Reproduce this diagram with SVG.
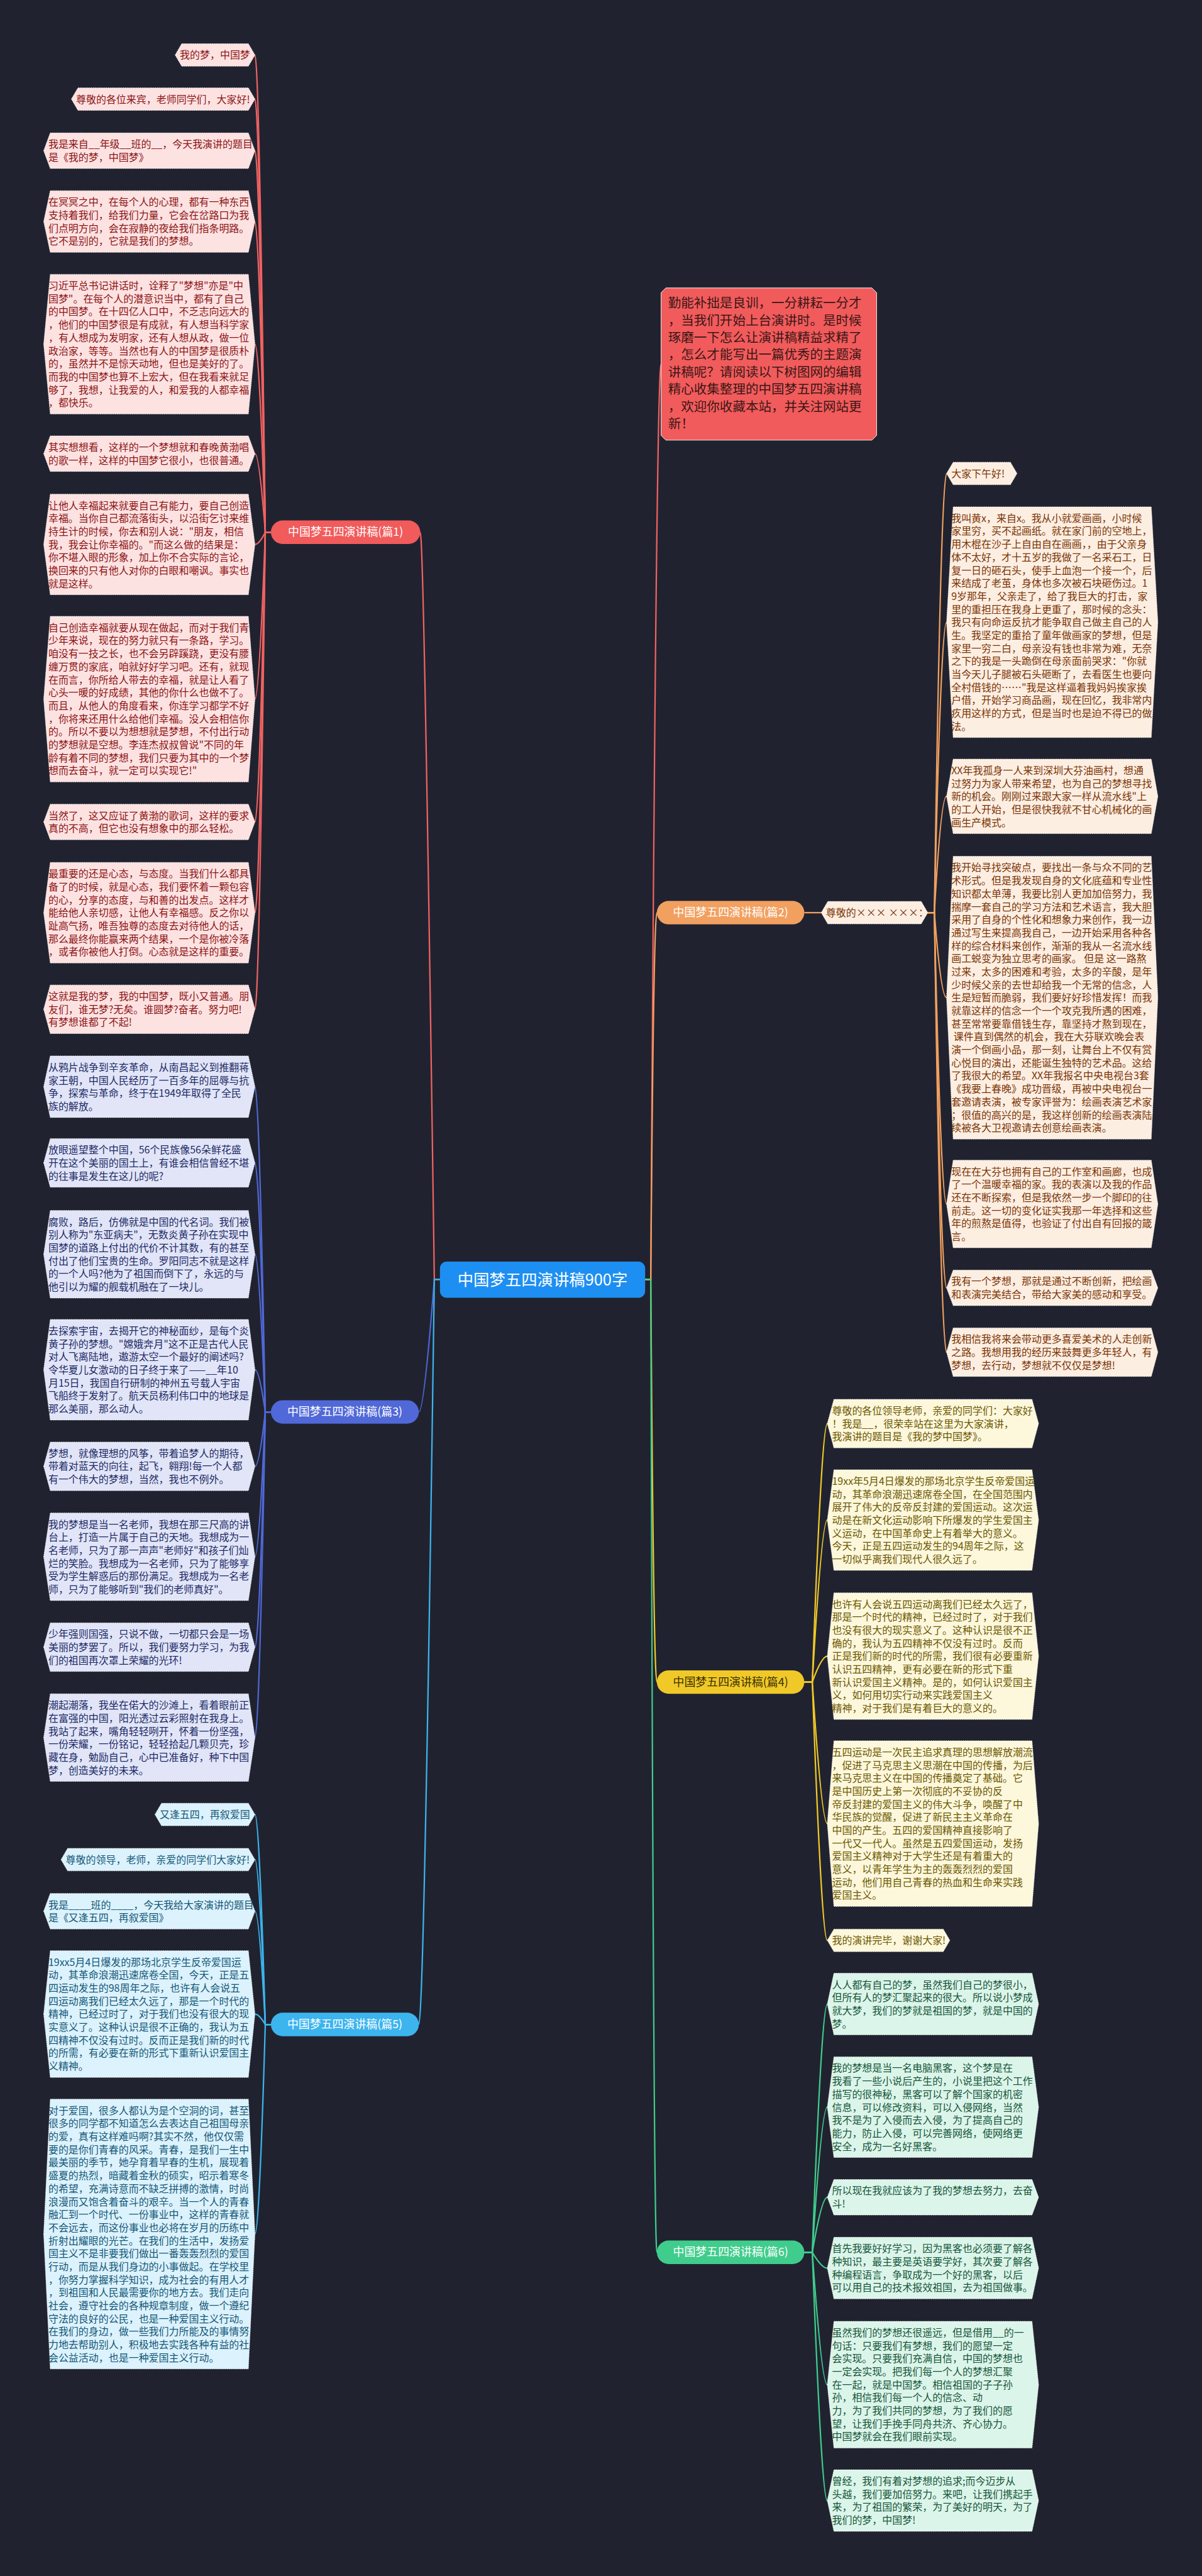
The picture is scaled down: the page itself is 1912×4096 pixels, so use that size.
<svg xmlns="http://www.w3.org/2000/svg" width="1912" height="4096" viewBox="0 0 1912 4096">
<style>
.bx polygon{stroke:#ffffff;stroke-width:1.2;stroke-dasharray:2 2}
.bx text{font-family:"Noto Sans CJK SC","Noto Sans",sans-serif;font-size:21.4px}
.r polygon{fill:#fde2e2}.r text{fill:#8c1414}
.b polygon{fill:#e1e5f7}.b text{fill:#1d2a66}
.c polygon{fill:#dcf2fc}.c text{fill:#145878}
.o polygon{fill:#fdeee2}.o text{fill:#7a3505}
.y polygon{fill:#fdf7dc}.y text{fill:#6b5800}
.g polygon{fill:#dcf5ea}.g text{fill:#16553a}
.ln path{fill:none;stroke-width:3}
.pl text{font-family:"Noto Sans CJK SC","Noto Sans",sans-serif;font-size:24px;text-anchor:middle}
</style>
<rect width="1912" height="4096" fill="#20232f"/>
<g transform="scale(0.746875)">
<g id="connectors" class="ln">
<path stroke="#f06262" d="M937,2724 L925,2724 Q903,1133 895,1133"/>
<path stroke="#5068d8" d="M937,2724 L925,2724 Q903,3006 892,3006"/>
<path stroke="#3cb4ee" d="M937,2724 L925,2724 Q903,4310 892,4310"/>
<path stroke="#f06262" d="M1374,2724 L1386,2724 Q1398,775 1408,775"/>
<path stroke="#f2a060" d="M1374,2724 L1386,2724 Q1392,1943 1399,1943"/>
<path stroke="#f0c828" d="M1374,2724 L1386,2724 Q1392,3581 1399,3581"/>
<path stroke="#40cc8c" d="M1374,2724 L1386,2724 Q1392,4795 1399,4795"/>
<g stroke="#f06262">
<path d="M577,1133 L565,1133 Q552,117 543,117"/>
<path d="M577,1133 L565,1133 Q552,211 543,211"/>
<path d="M577,1133 L565,1133 Q552,321 543,321"/>
<path d="M577,1133 L565,1133 Q552,472 543,472"/>
<path d="M577,1133 L565,1133 Q552,733 543,733"/>
<path d="M577,1133 L565,1133 Q552,966 543,966"/>
<path d="M577,1133 L565,1133 Q552,1159 543,1159"/>
<path d="M577,1133 L565,1133 Q552,1488 543,1488"/>
<path d="M577,1133 L565,1133 Q552,1750 543,1750"/>
<path d="M577,1133 L565,1133 Q552,1943 543,1943"/>
<path d="M577,1133 L565,1133 Q552,2149 543,2149"/>
</g>
<g stroke="#5068d8">
<path d="M577,3006 L565,3006 Q552,2314 543,2314"/>
<path d="M577,3006 L565,3006 Q552,2476 543,2476"/>
<path d="M577,3006 L565,3006 Q552,2670 543,2670"/>
<path d="M577,3006 L565,3006 Q552,2916 543,2916"/>
<path d="M577,3006 L565,3006 Q552,3122 543,3122"/>
<path d="M577,3006 L565,3006 Q552,3314 543,3314"/>
<path d="M577,3006 L565,3006 Q552,3507 543,3507"/>
<path d="M577,3006 L565,3006 Q552,3699 543,3699"/>
</g>
<g stroke="#3cb4ee">
<path d="M577,4310 L565,4310 Q552,3863 543,3863"/>
<path d="M577,4310 L565,4310 Q552,3959 543,3959"/>
<path d="M577,4310 L565,4310 Q552,4069 543,4069"/>
<path d="M577,4310 L565,4310 Q552,4288 543,4288"/>
<path d="M577,4310 L565,4310 Q552,4756 543,4756"/>
</g>
<g stroke="#f2a060">
<path d="M1713,1943 L1749,1943"/>
<path d="M1976,1943 L1990,1943 Q2004,1008 2016,1008"/>
<path d="M1976,1943 L1990,1943 Q2004,1325 2016,1325"/>
<path d="M1976,1943 L1990,1943 Q2004,1695 2016,1695"/>
<path d="M1976,1943 L1990,1943 Q2004,2124 2016,2124"/>
<path d="M1976,1943 L1990,1943 Q2004,2563 2016,2563"/>
<path d="M1976,1943 L1990,1943 Q2004,2742 2016,2742"/>
<path d="M1976,1943 L1990,1943 Q2004,2879 2016,2879"/>
</g>
<g stroke="#f0c828">
<path d="M1713,3581 L1730,3581 Q1750,3031 1762,3031"/>
<path d="M1713,3581 L1730,3581 Q1750,3236 1762,3236"/>
<path d="M1713,3581 L1730,3581 Q1750,3526 1762,3526"/>
<path d="M1713,3581 L1730,3581 Q1750,3882 1762,3882"/>
<path d="M1713,3581 L1730,3581 Q1750,4131 1762,4131"/>
</g>
<g stroke="#40cc8c">
<path d="M1713,4795 L1730,4795 Q1750,4267 1762,4267"/>
<path d="M1713,4795 L1730,4795 Q1750,4486 1762,4486"/>
<path d="M1713,4795 L1730,4795 Q1750,4678 1762,4678"/>
<path d="M1713,4795 L1730,4795 Q1750,4829 1762,4829"/>
<path d="M1713,4795 L1730,4795 Q1750,5077 1762,5077"/>
<path d="M1713,4795 L1730,4795 Q1750,5324 1762,5324"/>
</g>
</g>

<g id="center"><rect x="937" y="2686" width="437" height="77" rx="14" fill="#1e8ff2"/><text x="1155.5" y="2737" font-family="Noto Sans CJK SC,sans-serif" font-size="34" fill="#ffffff" text-anchor="middle">中国梦五四演讲稿900字</text></g>

<g id="intro"><polygon points="1418,613 1857,613 1867,623 1867,927 1857,937 1418,937 1408,927 1408,623" fill="#f15b5b" stroke="#ffffff" stroke-width="1.2"/>
<text font-family="Noto Sans CJK SC,sans-serif" font-size="27.5" fill="#3a1616"><tspan x="1423" y="655">勤能补拙是良训，一分耕耘一分才</tspan><tspan x="1423" dy="36.7">，当我们开始上台演讲时。是时候</tspan><tspan x="1423" dy="36.7">琢磨一下怎么让演讲稿精益求精了</tspan><tspan x="1423" dy="36.7">，怎么才能写出一篇优秀的主题演</tspan><tspan x="1423" dy="36.7">讲稿呢？请阅读以下树图网的编辑</tspan><tspan x="1423" dy="36.7">精心收集整理的中国梦五四演讲稿</tspan><tspan x="1423" dy="36.7">，欢迎你收藏本站，并关注网站更</tspan><tspan x="1423" dy="36.7">新！</tspan></text></g>

<g id="p1" class="pl"><rect x="577" y="1108" width="318" height="50" rx="25" fill="#f15b5b"/><text x="736" y="1141" fill="#ffffff">中国梦五四演讲稿(篇1)</text></g>
<g id="p3" class="pl"><rect x="577" y="2981" width="315" height="50" rx="25" fill="#5068d8"/><text x="734.5" y="3014" fill="#ffffff">中国梦五四演讲稿(篇3)</text></g>
<g id="p5" class="pl"><rect x="577" y="4285" width="315" height="50" rx="25" fill="#3cb4ee"/><text x="734.5" y="4318" fill="#ffffff">中国梦五四演讲稿(篇5)</text></g>
<g id="p2" class="pl"><rect x="1399" y="1918" width="314" height="50" rx="25" fill="#f2a060"/><text x="1556" y="1951" fill="#ffffff">中国梦五四演讲稿(篇2)</text></g>
<g id="p4" class="pl"><rect x="1399" y="3556" width="314" height="50" rx="25" fill="#f0c828"/><text x="1556" y="3589" fill="#3a3000">中国梦五四演讲稿(篇4)</text></g>
<g id="p6" class="pl"><rect x="1399" y="4770" width="314" height="50" rx="25" fill="#40cc8c"/><text x="1556" y="4803" fill="#ffffff">中国梦五四演讲稿(篇6)</text></g>

<!-- RED -->
<g id="r1" class="bx r"><polygon points="373,117 387,93 529,93 543,117 529,141 387,141"/><text><tspan x="383" y="125">我的梦，中国梦</tspan></text></g>
<g id="r2" class="bx r"><polygon points="152,211 166,187 529,187 543,211 529,235 166,235"/><text><tspan x="162" y="219">尊敬的各位来宾，老师同学们，大家好!</tspan></text></g>
<g id="r3" class="bx r"><polygon points="93,320.9 107,283 529,283 543,320.9 529,358.7 107,358.7"/><text><tspan x="103" y="315">我是来自__年级__班的__，今天我演讲的题目</tspan><tspan x="103" dy="27.7">是《我的梦，中国梦》</tspan></text></g>
<g id="r4" class="bx r"><polygon points="93,471.6 107,406 529,406 543,471.6 529,537.1 107,537.1"/><text><tspan x="103" y="438">在冥冥之中，在每个人的心理，都有一种东西</tspan><tspan x="103" dy="27.7">支持着我们，给我们力量，它会在岔路口为我</tspan><tspan x="103" dy="27.7">们点明方向，会在寂静的夜给我们指条明路。</tspan><tspan x="103" dy="27.7">它不是别的，它就是我们的梦想。</tspan></text></g>
<g id="r5" class="bx r"><polygon points="93,732.7 107,584 529,584 543,732.7 529,881.3 107,881.3"/><text><tspan x="103" y="616">习近平总书记讲话时，诠释了"梦想"亦是"中</tspan><tspan x="103" dy="27.7">国梦"。在每个人的潜意识当中，都有了自己</tspan><tspan x="103" dy="27.7">的中国梦。在十四亿人口中，不乏志向远大的</tspan><tspan x="103" dy="27.7">，他们的中国梦很是有成就，有人想当科学家</tspan><tspan x="103" dy="27.7">，有人想成为发明家，还有人想从政，做一位</tspan><tspan x="103" dy="27.7">政治家，等等。当然也有人的中国梦是很质朴</tspan><tspan x="103" dy="27.7">的，虽然并不是惊天动地，但也是美好的了。</tspan><tspan x="103" dy="27.7">而我的中国梦也算不上宏大，但在我看来就足</tspan><tspan x="103" dy="27.7">够了，我想，让我爱的人，和爱我的人都幸福</tspan><tspan x="103" dy="27.7">，都快乐。</tspan></text></g>
<g id="r6" class="bx r"><polygon points="93,965.9 107,928 529,928 543,965.9 529,1003.7 107,1003.7"/><text><tspan x="103" y="960">其实想想看，这样的一个梦想就和春晚黄渤唱</tspan><tspan x="103" dy="27.7">的歌一样，这样的中国梦它很小，也很普通。</tspan></text></g>
<g id="r7" class="bx r"><polygon points="93,1159.1 107,1052 529,1052 543,1159.1 529,1266.2 107,1266.2"/><text><tspan x="103" y="1084">让他人幸福起来就要自己有能力，要自己创造</tspan><tspan x="103" dy="27.7">幸福。当你自己都流落街头，以沿街乞讨来维</tspan><tspan x="103" dy="27.7">持生计的时候，你去和别人说："朋友，相信</tspan><tspan x="103" dy="27.7">我，我会让你幸福的。"而这么做的结果是：</tspan><tspan x="103" dy="27.7">你不堪入眼的形象，加上你不合实际的言论，</tspan><tspan x="103" dy="27.7">换回来的只有他人对你的白眼和嘲讽。事实也</tspan><tspan x="103" dy="27.7">就是这样。</tspan></text></g>
<g id="r8" class="bx r"><polygon points="93,1488.4 107,1312 529,1312 543,1488.4 529,1664.7 107,1664.7"/><text><tspan x="103" y="1344">自己创造幸福就要从现在做起，而对于我们青</tspan><tspan x="103" dy="27.7">少年来说，现在的努力就只有一条路，学习。</tspan><tspan x="103" dy="27.7">咱没有一技之长，也不会另辟蹊跷，更没有腰</tspan><tspan x="103" dy="27.7">缠万贯的家底，咱就好好学习吧。还有，就现</tspan><tspan x="103" dy="27.7">在而言，你所给人带去的幸福，就是让人看了</tspan><tspan x="103" dy="27.7">心头一暖的好成绩，其他的你什么也做不了。</tspan><tspan x="103" dy="27.7">而且，从他人的角度看来，你连学习都学不好</tspan><tspan x="103" dy="27.7">，你将来还用什么给他们幸福。没人会相信你</tspan><tspan x="103" dy="27.7">的。所以不要以为想想就是梦想，不付出行动</tspan><tspan x="103" dy="27.7">的梦想就是空想。李连杰叔叔曾说"不同的年</tspan><tspan x="103" dy="27.7">龄有着不同的梦想，我们只要为其中的一个梦</tspan><tspan x="103" dy="27.7">想而去奋斗，就一定可以实现它!"</tspan></text></g>
<g id="r9" class="bx r"><polygon points="93,1749.9 107,1712 529,1712 543,1749.9 529,1787.7 107,1787.7"/><text><tspan x="103" y="1744">当然了，这又应证了黄渤的歌词，这样的要求</tspan><tspan x="103" dy="27.7">真的不高，但它也没有想象中的那么轻松。</tspan></text></g>
<g id="r10" class="bx r"><polygon points="93,1943.1 107,1836 529,1836 543,1943.1 529,2050.2 107,2050.2"/><text><tspan x="103" y="1868">最重要的还是心态，与态度。当我们什么都具</tspan><tspan x="103" dy="27.7">备了的时候，就是心态，我们要怀着一颗包容</tspan><tspan x="103" dy="27.7">的心，分享的态度，与和善的出发点。这样才</tspan><tspan x="103" dy="27.7">能给他人亲切感，让他人有幸福感。反之你以</tspan><tspan x="103" dy="27.7">趾高气扬，唯吾独尊的态度去对待他人的话，</tspan><tspan x="103" dy="27.7">那么最终你能赢来两个结果，一个是你被冷落</tspan><tspan x="103" dy="27.7">，或者你被他人打倒。心态就是这样的重要。</tspan></text></g>
<g id="r11" class="bx r"><polygon points="93,2148.7 107,2097 529,2097 543,2148.7 529,2200.4 107,2200.4"/><text><tspan x="103" y="2129">这就是我的梦，我的中国梦，既小又普通。朋</tspan><tspan x="103" dy="27.7">友们，谁无梦?无矣。谁圆梦?奋者。努力吧!</tspan><tspan x="103" dy="27.7">有梦想谁都了不起!</tspan></text></g>

<!-- BLUE -->
<g id="b1" class="bx b"><polygon points="93,2313.6 107,2248 529,2248 543,2313.6 529,2379.1 107,2379.1"/><text><tspan x="103" y="2280">从鸦片战争到辛亥革命，从南昌起义到推翻蒋</tspan><tspan x="103" dy="27.7">家王朝，中国人民经历了一百多年的屈辱与抗</tspan><tspan x="103" dy="27.7">争，探索与革命，终于在1949年取得了全民</tspan><tspan x="103" dy="27.7">族的解放。</tspan></text></g>
<g id="b2" class="bx b"><polygon points="93,2475.7 107,2424 529,2424 543,2475.7 529,2527.4 107,2527.4"/><text><tspan x="103" y="2456">放眼遥望整个中国，56个民族像56朵鲜花盛</tspan><tspan x="103" dy="27.7">开在这个美丽的国土上，有谁会相信曾经不堪</tspan><tspan x="103" dy="27.7">的往事是发生在这儿的呢?</tspan></text></g>
<g id="b3" class="bx b"><polygon points="93,2670.3 107,2577 529,2577 543,2670.3 529,2763.5 107,2763.5"/><text><tspan x="103" y="2609">腐败，路后，仿佛就是中国的代名词。我们被</tspan><tspan x="103" dy="27.7">别人称为"东亚病夫"，无数炎黄子孙在实现中</tspan><tspan x="103" dy="27.7">国梦的道路上付出的代价不计其数，有的甚至</tspan><tspan x="103" dy="27.7">付出了他们宝贵的生命。罗阳同志不就是这样</tspan><tspan x="103" dy="27.7">的一个人吗?他为了祖国而倒下了，永远的与</tspan><tspan x="103" dy="27.7">他引以为耀的舰载机融在了一块儿。</tspan></text></g>
<g id="b4" class="bx b"><polygon points="93,2916.1 107,2809 529,2809 543,2916.1 529,3023.2 107,3023.2"/><text><tspan x="103" y="2841">去探索宇宙，去揭开它的神秘面纱，是每个炎</tspan><tspan x="103" dy="27.7">黄子孙的梦想。"嫦娥奔月"这不正是古代人民</tspan><tspan x="103" dy="27.7">对人飞离陆地，遨游太空一个最好的阐述吗?</tspan><tspan x="103" dy="27.7">令华夏儿女激动的日子终于来了——__年10</tspan><tspan x="103" dy="27.7">月15日，我国自行研制的神州五号载人宇宙</tspan><tspan x="103" dy="27.7">飞船终于发射了。航天员杨利伟口中的地球是</tspan><tspan x="103" dy="27.7">那么美丽，那么动人。</tspan></text></g>
<g id="b5" class="bx b"><polygon points="93,3121.7 107,3070 529,3070 543,3121.7 529,3173.4 107,3173.4"/><text><tspan x="103" y="3102">梦想，就像理想的风筝，带着追梦人的期待，</tspan><tspan x="103" dy="27.7">带着对蓝天的向往，起飞，翱翔!每一个人都</tspan><tspan x="103" dy="27.7">有一个伟大的梦想，当然，我也不例外。</tspan></text></g>
<g id="b6" class="bx b"><polygon points="93,3314.3 107,3221 529,3221 543,3314.3 529,3407.5 107,3407.5"/><text><tspan x="103" y="3253">我的梦想是当一名老师，我想在那三尺高的讲</tspan><tspan x="103" dy="27.7">台上，打造一片属于自己的天地。我想成为一</tspan><tspan x="103" dy="27.7">名老师，只为了那一声声"老师好"和孩子们灿</tspan><tspan x="103" dy="27.7">烂的笑脸。我想成为一名老师，只为了能够享</tspan><tspan x="103" dy="27.7">受为学生解惑后的那份满足。我想成为一名老</tspan><tspan x="103" dy="27.7">师，只为了能够听到"我们的老师真好"。</tspan></text></g>
<g id="b7" class="bx b"><polygon points="93,3506.7 107,3455 529,3455 543,3506.7 529,3558.4 107,3558.4"/><text><tspan x="103" y="3487">少年强则国强，只说不做，一切都只会是一场</tspan><tspan x="103" dy="27.7">美丽的梦罢了。所以，我们要努力学习，为我</tspan><tspan x="103" dy="27.7">们的祖国再次罩上荣耀的光环!</tspan></text></g>
<g id="b8" class="bx b"><polygon points="93,3699.3 107,3606 529,3606 543,3699.3 529,3792.5 107,3792.5"/><text><tspan x="103" y="3638">潮起潮落，我坐在偌大的沙滩上，看着眼前正</tspan><tspan x="103" dy="27.7">在富强的中国，阳光透过云彩照射在我身上。</tspan><tspan x="103" dy="27.7">我站了起来，嘴角轻轻咧开，怀着一份坚强，</tspan><tspan x="103" dy="27.7">一份荣耀，一份铭记，轻轻拾起几颗贝壳，珍</tspan><tspan x="103" dy="27.7">藏在身，勉励自己，心中已准备好，种下中国</tspan><tspan x="103" dy="27.7">梦，创造美好的未来。</tspan></text></g>

<!-- LIGHT BLUE -->
<g id="c1" class="bx c"><polygon points="330,3863 344,3839 529,3839 543,3863 529,3887 344,3887"/><text><tspan x="340" y="3871">又逢五四，再叙爱国</tspan></text></g>
<g id="c2" class="bx c"><polygon points="130,3959 144,3935 529,3935 543,3959 529,3983 144,3983"/><text><tspan x="140" y="3967">尊敬的领导，老师，亲爱的同学们大家好!</tspan></text></g>
<g id="c3" class="bx c"><polygon points="93,4068.9 107,4031 529,4031 543,4068.9 529,4106.7 107,4106.7"/><text><tspan x="103" y="4063">我是____班的____，今天我给大家演讲的题目</tspan><tspan x="103" dy="27.7">是《又逢五四，再叙爱国》</tspan></text></g>
<g id="c4" class="bx c"><polygon points="93,4287.8 107,4153 529,4153 543,4287.8 529,4422.6 107,4422.6"/><text><tspan x="103" y="4185">19xx5月4日爆发的那场北京学生反帝爱国运</tspan><tspan x="103" dy="27.7">动，其革命浪潮迅速席卷全国，今天，正是五</tspan><tspan x="103" dy="27.7">四运动发生的98周年之际，也许有人会说五</tspan><tspan x="103" dy="27.7">四运动离我们已经太久远了，那是一个时代的</tspan><tspan x="103" dy="27.7">精神，已经过时了，对于我们也没有很大的现</tspan><tspan x="103" dy="27.7">实意义了。这种认识是很不正确的，我认为五</tspan><tspan x="103" dy="27.7">四精神不仅没有过时。反而正是我们新的时代</tspan><tspan x="103" dy="27.7">的所需，有必要在新的形式下重新认识爱国主</tspan><tspan x="103" dy="27.7">义精神。</tspan></text></g>
<g id="c5" class="bx c"><polygon points="93,4756.2 107,4469 529,4469 543,4756.2 529,5043.3 107,5043.3"/><text><tspan x="103" y="4501">对于爱国，很多人都认为是个空洞的词，甚至</tspan><tspan x="103" dy="27.7">很多的同学都不知道怎么去表达自己祖国母亲</tspan><tspan x="103" dy="27.7">的爱，真有这样难吗啊?其实不然，他仅仅需</tspan><tspan x="103" dy="27.7">要的是你们青春的风采。青春，是我们一生中</tspan><tspan x="103" dy="27.7">最美丽的季节，她孕育着早春的生机，展现着</tspan><tspan x="103" dy="27.7">盛夏的热烈，暗藏着金秋的硕实，昭示着寒冬</tspan><tspan x="103" dy="27.7">的希望，充满诗意而不缺乏拼搏的激情，时尚</tspan><tspan x="103" dy="27.7">浪漫而又饱含着奋斗的艰辛。当一个人的青春</tspan><tspan x="103" dy="27.7">融汇到一个时代、一份事业中，这样的青春就</tspan><tspan x="103" dy="27.7">不会远去，而这份事业也必将在岁月的历练中</tspan><tspan x="103" dy="27.7">折射出耀眼的光芒。在我们的生活中，发扬爱</tspan><tspan x="103" dy="27.7">国主义不是非要我们做出一番轰轰烈烈的爱国</tspan><tspan x="103" dy="27.7">行动，而是从我们身边的小事做起。在学校里</tspan><tspan x="103" dy="27.7">，你努力掌握科学知识，成为社会的有用人才</tspan><tspan x="103" dy="27.7">，到祖国和人民最需要你的地方去。我们走向</tspan><tspan x="103" dy="27.7">社会，遵守社会的各种规章制度，做一个遵纪</tspan><tspan x="103" dy="27.7">守法的良好的公民，也是一种爱国主义行动。</tspan><tspan x="103" dy="27.7">在我们的身边，做一些我们力所能及的事情努</tspan><tspan x="103" dy="27.7">力地去帮助别人，积极地去实践各种有益的社</tspan><tspan x="103" dy="27.7">会公益活动，也是一种爱国主义行动。</tspan></text></g>

<!-- ORANGE -->
<g id="o0" class="bx o"><polygon points="1749,1943 1763,1919 1962,1919 1976,1943 1962,1967 1763,1967"/><text><tspan x="1759" y="1951">尊敬的××× ×××：</tspan></text></g>
<g id="o1" class="bx o"><polygon points="2016,1008 2030,984 2152,984 2166,1008 2152,1032 2030,1032"/><text><tspan x="2026" y="1016">大家下午好!</tspan></text></g>
<g id="o2" class="bx o"><polygon points="2016,1324.6 2030,1079 2452,1079 2466,1324.6 2452,1570.2 2030,1570.2"/><text><tspan x="2026" y="1111">我叫黄x，来自x。我从小就爱画画，小时候</tspan><tspan x="2026" dy="27.7">家里穷，买不起画纸。就在家门前的空地上，</tspan><tspan x="2026" dy="27.7">用木棍在沙子上自由自在画画，，由于父亲身</tspan><tspan x="2026" dy="27.7">体不太好，才十五岁的我做了一名采石工，日</tspan><tspan x="2026" dy="27.7">复一日的砸石头，使手上血泡一个接一个，后</tspan><tspan x="2026" dy="27.7">来结成了老茧，身体也多次被石块砸伤过。1</tspan><tspan x="2026" dy="27.7">9岁那年，父亲走了，给了我巨大的打击，家</tspan><tspan x="2026" dy="27.7">里的重担压在我身上更重了，那时候的念头：</tspan><tspan x="2026" dy="27.7">我只有向命运反抗才能争取自己做主自己的人</tspan><tspan x="2026" dy="27.7">生。我坚定的重拾了童年做画家的梦想，但是</tspan><tspan x="2026" dy="27.7">家里一穷二白，母亲没有钱也非常为难，无奈</tspan><tspan x="2026" dy="27.7">之下的我是一头跪倒在母亲面前哭求："你就</tspan><tspan x="2026" dy="27.7">当今天儿子腿被石头砸断了，去看医生也要向</tspan><tspan x="2026" dy="27.7">全村借钱的……"我是这样逼着我妈妈挨家挨</tspan><tspan x="2026" dy="27.7">户借，开始学习商品画，现在回忆，我非常内</tspan><tspan x="2026" dy="27.7">疚用这样的方式，但是当时也是迫不得已的做</tspan><tspan x="2026" dy="27.7">法。</tspan></text></g>
<g id="o3" class="bx o"><polygon points="2016,1695.4 2030,1616 2452,1616 2466,1695.4 2452,1774.8 2030,1774.8"/><text><tspan x="2026" y="1648">XX年我孤身一人来到深圳大芬油画村，想通</tspan><tspan x="2026" dy="27.7">过努力为家人带来希望，也为自己的梦想寻找</tspan><tspan x="2026" dy="27.7">新的机会。刚刚过来跟大家一样从流水线"上</tspan><tspan x="2026" dy="27.7">的工人开始，但是很快我就不甘心机械化的画</tspan><tspan x="2026" dy="27.7">画生产模式。</tspan></text></g>
<g id="o4" class="bx o"><polygon points="2016,2124 2030,1823 2452,1823 2466,2124 2452,2425 2030,2425"/><text><tspan x="2026" y="1855">我开始寻找突破点，要找出一条与众不同的艺</tspan><tspan x="2026" dy="27.7">术形式。但是我发现自身的文化底蕴和专业性</tspan><tspan x="2026" dy="27.7">知识都太单薄，我要比别人更加加倍努力，我</tspan><tspan x="2026" dy="27.7">揣摩一套自己的学习方法和艺术语言，我大胆</tspan><tspan x="2026" dy="27.7">采用了自身的个性化和想象力来创作，我一边</tspan><tspan x="2026" dy="27.7">通过写生来提高我自己，一边开始采用各种各</tspan><tspan x="2026" dy="27.7">样的综合材料来创作，渐渐的我从一名流水线</tspan><tspan x="2026" dy="27.7">画工蜕变为独立思考的画家。 但是 这一路熬</tspan><tspan x="2026" dy="27.7">过来，太多的困难和考验，太多的辛酸，是年</tspan><tspan x="2026" dy="27.7">少时候父亲的去世却给我一个无常的信念，人</tspan><tspan x="2026" dy="27.7">生是短暂而脆弱，我们要好好珍惜发挥！而我</tspan><tspan x="2026" dy="27.7">就靠这样的信念一个一个攻克我所遇的困难，</tspan><tspan x="2026" dy="27.7">甚至常常要靠借钱生存，靠坚持才熬到现在，</tspan><tspan x="2026" dy="27.7"> 课件直到偶然的机会，我在大芬联欢晚会表</tspan><tspan x="2026" dy="27.7">演一个倒画小品，那一刻，让舞台上不仅有赏</tspan><tspan x="2026" dy="27.7">心悦目的演出，还能诞生独特的艺术品。这给</tspan><tspan x="2026" dy="27.7">了我很大的希望。XX年我报名中央电视台3套</tspan><tspan x="2026" dy="27.7">《我要上春晚》成功晋级，再被中央电视台一</tspan><tspan x="2026" dy="27.7">套邀请表演，被专家评誉为：绘画表演艺术家</tspan><tspan x="2026" dy="27.7">；很值的高兴的是，我这样创新的绘画表演陆</tspan><tspan x="2026" dy="27.7">续被各大卫视邀请去创意绘画表演。</tspan></text></g>
<g id="o5" class="bx o"><polygon points="2016,2563.3 2030,2470 2452,2470 2466,2563.3 2452,2656.5 2030,2656.5"/><text><tspan x="2026" y="2502">现在在大芬也拥有自己的工作室和画廊，也成</tspan><tspan x="2026" dy="27.7">了一个温暖幸福的家。我的表演以及我的作品</tspan><tspan x="2026" dy="27.7">还在不断探索，但是我依然一步一个脚印的往</tspan><tspan x="2026" dy="27.7">前走。这一切的变化证实我那一年选择和这些</tspan><tspan x="2026" dy="27.7">年的煎熬是值得，也验证了付出自有回报的箴</tspan><tspan x="2026" dy="27.7">言。</tspan></text></g>
<g id="o6" class="bx o"><polygon points="2016,2741.9 2030,2704 2452,2704 2466,2741.9 2452,2779.7 2030,2779.7"/><text><tspan x="2026" y="2736">我有一个梦想，那就是通过不断创新，把绘画</tspan><tspan x="2026" dy="27.7">和表演完美结合，带给大家美的感动和享受。</tspan></text></g>
<g id="o7" class="bx o"><polygon points="2016,2878.7 2030,2827 2452,2827 2466,2878.7 2452,2930.4 2030,2930.4"/><text><tspan x="2026" y="2859">我相信我将来会带动更多喜爱美术的人走创新</tspan><tspan x="2026" dy="27.7">之路。我想用我的经历来鼓舞更多年轻人，有</tspan><tspan x="2026" dy="27.7">梦想，去行动，梦想就不仅仅是梦想!</tspan></text></g>

<!-- YELLOW -->
<g id="y1" class="bx y"><polygon points="1762,3030.7 1776,2979 2198,2979 2212,3030.7 2198,3082.4 1776,3082.4"/><text><tspan x="1772" y="3011">尊敬的各位领导老师，亲爱的同学们：大家好</tspan><tspan x="1772" dy="27.7">！我是__，很荣幸站在这里为大家演讲，</tspan><tspan x="1772" dy="27.7">我演讲的题目是《我的梦中国梦》。</tspan></text></g>
<g id="y2" class="bx y"><polygon points="1762,3236.1 1776,3129 2198,3129 2212,3236.1 2198,3343.2 1776,3343.2"/><text><tspan x="1772" y="3161">19xx年5月4日爆发的那场北京学生反帝爱国运</tspan><tspan x="1772" dy="27.7">动，其革命浪潮迅速席卷全国，在全国范围内</tspan><tspan x="1772" dy="27.7">展开了伟大的反帝反封建的爱国运动。这次运</tspan><tspan x="1772" dy="27.7">动是在新文化运动影响下所爆发的学生爱国主</tspan><tspan x="1772" dy="27.7">义运动，在中国革命史上有着举大的意义。</tspan><tspan x="1772" dy="27.7">今天，正是五四运动发生的94周年之际，这</tspan><tspan x="1772" dy="27.7">一切似乎离我们现代人很久远了。</tspan></text></g>
<g id="y3" class="bx y"><polygon points="1762,3525.8 1776,3391 2198,3391 2212,3525.8 2198,3660.6 1776,3660.6"/><text><tspan x="1772" y="3423">也许有人会说五四运动离我们已经太久远了，</tspan><tspan x="1772" dy="27.7">那是一个时代的精神，已经过时了，对于我们</tspan><tspan x="1772" dy="27.7">也没有很大的现实意义了。这种认识是很不正</tspan><tspan x="1772" dy="27.7">确的，我认为五四精神不仅没有过时。反而</tspan><tspan x="1772" dy="27.7">正是我们新的时代的所需，我们很有必要重新</tspan><tspan x="1772" dy="27.7">认识五四精神，更有必要在新的形式下重</tspan><tspan x="1772" dy="27.7">新认识爱国主义精神。是的，如何认识爱国主</tspan><tspan x="1772" dy="27.7">义，如何用切实行动来实践爱国主义</tspan><tspan x="1772" dy="27.7">精神，对于我们是有着巨大的意义的。</tspan></text></g>
<g id="y4" class="bx y"><polygon points="1762,3882.4 1776,3706 2198,3706 2212,3882.4 2198,4058.7 1776,4058.7"/><text><tspan x="1772" y="3738">五四运动是一次民主追求真理的思想解放潮流</tspan><tspan x="1772" dy="27.7">，促进了马克思主义思潮在中国的传播，为后</tspan><tspan x="1772" dy="27.7">来马克思主义在中国的传播奠定了基础。它</tspan><tspan x="1772" dy="27.7">是中国历史上第一次彻底的不妥协的反</tspan><tspan x="1772" dy="27.7">帝反封建的爱国主义的伟大斗争，唤醒了中</tspan><tspan x="1772" dy="27.7">华民族的觉醒，促进了新民主主义革命在</tspan><tspan x="1772" dy="27.7">中国的产生。五四的爱国精神直接影响了</tspan><tspan x="1772" dy="27.7">一代又一代人。虽然是五四爱国运动，发扬</tspan><tspan x="1772" dy="27.7">爱国主义精神对于大学生还是有着重大的</tspan><tspan x="1772" dy="27.7">意义，以青年学生为主的轰轰烈烈的爱国</tspan><tspan x="1772" dy="27.7">运动，他们用自己青春的热血和生命来实践</tspan><tspan x="1772" dy="27.7">爱国主义。</tspan></text></g>
<g id="y5" class="bx y"><polygon points="1762,4131 1776,4107 2009,4107 2023,4131 2009,4155 1776,4155"/><text><tspan x="1772" y="4139">我的演讲完毕，谢谢大家!</tspan></text></g>

<!-- GREEN -->
<g id="g1" class="bx g"><polygon points="1762,4266.6 1776,4201 2198,4201 2212,4266.6 2198,4332.1 1776,4332.1"/><text><tspan x="1772" y="4233">人人都有自己的梦，虽然我们自己的梦很小，</tspan><tspan x="1772" dy="27.7">但所有人的梦汇聚起来的很大。所以说小梦成</tspan><tspan x="1772" dy="27.7">就大梦，我们的梦就是祖国的梦，就是中国的</tspan><tspan x="1772" dy="27.7">梦。</tspan></text></g>
<g id="g2" class="bx g"><polygon points="1762,4486.1 1776,4379 2198,4379 2212,4486.1 2198,4593.2 1776,4593.2"/><text><tspan x="1772" y="4411">我的梦想是当一名电脑黑客，这个梦是在</tspan><tspan x="1772" dy="27.7">我看了一些小说后产生的，小说里把这个工作</tspan><tspan x="1772" dy="27.7">描写的很神秘，黑客可以了解个国家的机密</tspan><tspan x="1772" dy="27.7">信息，可以修改资料，可以入侵网络，当然</tspan><tspan x="1772" dy="27.7">我不是为了入侵而去入侵，为了提高自己的</tspan><tspan x="1772" dy="27.7">能力，防止入侵，可以完善网络，使网络更</tspan><tspan x="1772" dy="27.7">安全，成为一名好黑客。</tspan></text></g>
<g id="g3" class="bx g"><polygon points="1762,4677.9 1776,4640 2198,4640 2212,4677.9 2198,4715.7 1776,4715.7"/><text><tspan x="1772" y="4672">所以现在我就应该为了我的梦想去努力，去奋</tspan><tspan x="1772" dy="27.7">斗!</tspan></text></g>
<g id="g4" class="bx g"><polygon points="1762,4828.6 1776,4763 2198,4763 2212,4828.6 2198,4894.1 1776,4894.1"/><text><tspan x="1772" y="4795">首先我要好好学习，因为黑客也必须要了解各</tspan><tspan x="1772" dy="27.7">种知识，最主要是英语要学好，其次要了解各</tspan><tspan x="1772" dy="27.7">种编程语言，争取成为一个好的黑客，以后</tspan><tspan x="1772" dy="27.7">可以用自己的技术报效祖国，去为祖国做事。</tspan></text></g>
<g id="g5" class="bx g"><polygon points="1762,5076.8 1776,4942 2198,4942 2212,5076.8 2198,5211.6 1776,5211.6"/><text><tspan x="1772" y="4974">虽然我们的梦想还很遥远，但是借用__的一</tspan><tspan x="1772" dy="27.7">句话：只要我们有梦想，我们的愿望一定</tspan><tspan x="1772" dy="27.7">会实现。只要我们充满自信，中国的梦想也</tspan><tspan x="1772" dy="27.7">一定会实现。把我们每一个人的梦想汇聚</tspan><tspan x="1772" dy="27.7">在一起，就是中国梦。相信祖国的子子孙</tspan><tspan x="1772" dy="27.7">孙，相信我们每一个人的信念、动</tspan><tspan x="1772" dy="27.7">力，为了我们共同的梦想，为了我们的愿</tspan><tspan x="1772" dy="27.7">望，让我们手挽手同舟共济、齐心协力。</tspan><tspan x="1772" dy="27.7">中国梦就会在我们眼前实现。</tspan></text></g>
<g id="g6" class="bx g"><polygon points="1762,5323.6 1776,5258 2198,5258 2212,5323.6 2198,5389.1 1776,5389.1"/><text><tspan x="1772" y="5290">曾经，我们有着对梦想的追求;而今迈步从</tspan><tspan x="1772" dy="27.7">头越，我们要加倍努力。来吧，让我们携起手</tspan><tspan x="1772" dy="27.7">来，为了祖国的繁荣，为了美好的明天，为了</tspan><tspan x="1772" dy="27.7">我们的梦，中国梦!</tspan></text></g>
</g>
</svg>
